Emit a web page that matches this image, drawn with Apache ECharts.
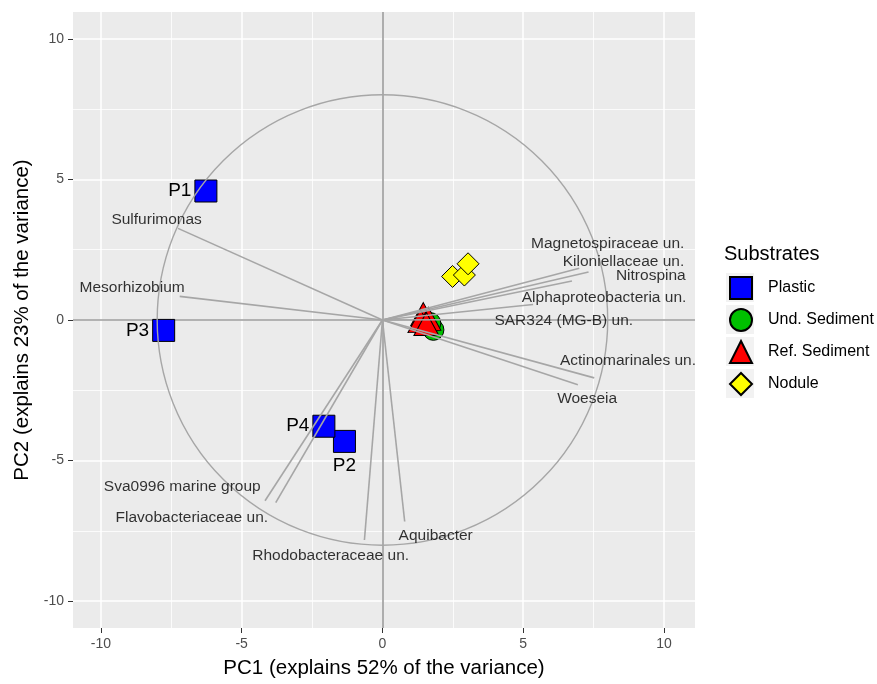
<!DOCTYPE html>
<html>
<head>
<meta charset="utf-8">
<script src="https://cdn.jsdelivr.net/npm/echarts@6/dist/echarts.min.js"></script>
<style>html,body{margin:0;padding:0;background:#fff;}#chart{width:877px;height:684px;}</style>
</head>
<body>
<div id="chart"></div>
<script>
// ---- data ----
const xTicks = [-10, -5, 0, 5, 10];
const yTicks = [-10, -5, 0, 5, 10];
const xMinor = [-7.5, -2.5, 2.5, 7.5];
const yMinor = [-7.5, -2.5, 2.5, 7.5];

const plasticNames = ['P1', 'P2', 'P3', 'P4'];
const plasticPC1 = [-6.27, -1.35, -7.77, -2.08];
const plasticPC2 = [4.59, -4.32, -0.37, -3.78];

const undSedPC1 = [1.81, 1.70];
const undSedPC2 = [-0.35, -0.11];

const refSedPC1 = [1.45, 1.63, 1.35, 1.56];
const refSedPC2 = [0.21, 0.04, -0.04, -0.14];

const nodulePC1 = [2.49, 2.91, 3.04];
const nodulePC2 = [1.55, 1.60, 2.00];

const loadingNames = ['Sulfurimonas', 'Mesorhizobium', 'Sva0996 marine group', 'Flavobacteriaceae un.',
  'Rhodobacteraceae un.', 'Aquibacter', 'Woeseia', 'Actinomarinales un.', 'SAR324 (MG-B) un.',
  'Alphaproteobacteria un.', 'Nitrospina', 'Kiloniellaceae un.', 'Magnetospiraceae un.'];
const loadingPC1 = [-7.26, -7.20, -4.17, -3.79, -0.64, 0.79, 6.94, 7.52, 4.40, 5.35, 6.73, 7.32, 6.99];
const loadingPC2 = [3.26, 0.84, -6.43, -6.50, -7.83, -7.17, -2.30, -2.06, 0.02, 0.55, 1.39, 1.71, 1.84];
// label anchor positions (data units)
const loadingLabelPC1 = [-8.02, -8.89, -7.11, -6.77, -1.84, 1.89, 7.27, 8.72, 6.44, 7.87, 9.53, 8.56, 8.00];
const loadingLabelPC2 = [3.56, 1.16, -5.94, -7.03, -8.40, -7.67, -2.80, -1.44, -0.02, 0.78, 1.57, 2.07, 2.70];

const circleRadius = 8;

const legendNames = ['Plastic', 'Und. Sediment', 'Ref. Sediment', 'Nodule'];
const legendIcons = ['rect', 'circle', 'triangle', 'diamond'];

// ---- chart ----
const FONT = "'Liberation Sans', Arial, Helvetica, sans-serif";
const chart = echarts.init(document.getElementById('chart'), null, { renderer: 'canvas' });

const gridLineData = []
  .concat(xMinor.map(v => ({ xAxis: v, lineStyle: { color: '#ffffff', width: 0.8, type: 'solid' } })))
  .concat(yMinor.map(v => ({ yAxis: v, lineStyle: { color: '#ffffff', width: 0.8, type: 'solid' } })))
  .concat(xTicks.map(v => ({ xAxis: v, lineStyle: { color: '#ffffff', width: 1.5, type: 'solid' } })))
  .concat(yTicks.map(v => ({ yAxis: v, lineStyle: { color: '#ffffff', width: 1.5, type: 'solid' } })));

const pLabelPos = { P1: 'left', P2: 'bottom', P3: 'left', P4: 'left' };

const legendKeyRects = legendNames.map((n, i) => ({
  type: 'rect', left: 726, top: 273 + i * 32, shape: { width: 28, height: 29 }, style: { fill: '#F2F2F2' }, z: -1
}));

const option = {
  animation: false,
  backgroundColor: '#ffffff',
  textStyle: { fontFamily: FONT },
  grid: { left: 73, right: 182, top: 12, bottom: 54, show: true, backgroundColor: '#EBEBEB', borderWidth: 0 },
  xAxis: {
    type: 'value', min: -10.99, max: 11.1,
    name: 'PC1 (explains 52% of the variance)', nameLocation: 'middle', nameGap: 30,
    nameTextStyle: { fontSize: 20.5, color: '#000', fontFamily: FONT },
    axisLine: { show: false, onZero: false },
    splitLine: { show: false },
    axisTick: { show: true, length: 5, lineStyle: { color: '#333', width: 1 }, customValues: xTicks },
    axisLabel: { fontSize: 14, color: '#4D4D4D', margin: 9, fontFamily: FONT, customValues: xTicks }
  },
  yAxis: {
    type: 'value', min: -10.96, max: 10.96,
    name: 'PC2 (explains 23% of the variance)', nameLocation: 'middle', nameGap: 40,
    nameTextStyle: { fontSize: 20.5, color: '#000', fontFamily: FONT },
    axisLine: { show: false, onZero: false },
    splitLine: { show: false },
    axisTick: { show: true, length: 5, lineStyle: { color: '#333', width: 1 }, customValues: yTicks },
    axisLabel: { fontSize: 14, color: '#4D4D4D', margin: 9, fontFamily: FONT, customValues: yTicks }
  },
  legend: {
    orient: 'vertical', left: 729, top: 276, padding: 0, itemWidth: 22, itemHeight: 22, itemGap: 8,
    selectedMode: false,
    textStyle: { fontSize: 16, color: '#000', fontFamily: FONT, lineHeight: 20, padding: [0, 0, 0, 11] },
    data: legendNames.map((n, i) => ({ name: n, icon: legendIcons[i] }))
  },
  graphic: [
    { type: 'text', left: 724, top: 244, style: { text: 'Substrates', fontSize: 20, fill: '#000', fontFamily: FONT } }
  ].concat(legendKeyRects),
  series: [
    {
      name: '_grid', type: 'line', data: [], z: 1, silent: true,
      markLine: { z: 1, silent: true, symbol: ['none', 'none'], label: { show: false }, animation: false, data: gridLineData }
    },
    {
      name: '_zero', type: 'line', data: [], z: 2, silent: true,
      markLine: {
        z: 2, silent: true, symbol: ['none', 'none'], label: { show: false }, animation: false,
        lineStyle: { color: '#9A9A9A', width: 1.6, type: 'solid' },
        data: [{ xAxis: 0 }, { yAxis: 0 }]
      }
    },
    {
      name: 'Plastic', type: 'scatter', symbol: 'rect', symbolSize: 22, z: 3,
      itemStyle: { color: '#0000FF', borderColor: '#000', borderWidth: 1, opacity: 1 },
      label: { show: true, formatter: '{b}', fontSize: 19, color: '#000', fontFamily: FONT, distance: 3 },
      data: plasticNames.map((n, i) => ({ name: n, value: [plasticPC1[i], plasticPC2[i]], label: { position: pLabelPos[n] } }))
    },
    {
      name: 'Und. Sediment', type: 'scatter', symbol: 'circle', symbolSize: 21, z: 3,
      itemStyle: { color: '#00C000', borderColor: '#000', borderWidth: 1, opacity: 1 },
      data: undSedPC1.map((v, i) => [v, undSedPC2[i]])
    },
    {
      name: 'Ref. Sediment', type: 'scatter', symbol: 'triangle', symbolSize: [25, 23], z: 3,
      itemStyle: { color: '#FF0000', borderColor: '#000', borderWidth: 1, opacity: 1 },
      data: refSedPC1.map((v, i) => [v, refSedPC2[i]])
    },
    {
      name: 'Nodule', type: 'scatter', symbol: 'diamond', symbolSize: 22, z: 3,
      itemStyle: { color: '#FFFF00', borderColor: '#000', borderWidth: 1, opacity: 1 },
      data: nodulePC1.map((v, i) => [v, nodulePC2[i]])
    },
    {
      name: '_circle', type: 'custom', coordinateSystem: 'cartesian2d', z: 4, silent: true,
      data: [[0, 0]],
      renderItem: function (params, api) {
        const c = api.coord([api.value(0), api.value(1)]);
        const r = api.size([circleRadius, 0])[0];
        return { type: 'circle', shape: { cx: c[0], cy: c[1], r: r }, style: { fill: 'none', stroke: '#A6A6A6', lineWidth: 1.4 } };
      }
    },
    {
      name: '_loadings', type: 'lines', coordinateSystem: 'cartesian2d', z: 5, silent: true,
      symbol: ['none', 'none'],
      lineStyle: { color: '#A6A6A6', width: 1.6, opacity: 1 },
      data: loadingNames.map((n, i) => ({ name: n, coords: [[0, 0], [loadingPC1[i], loadingPC2[i]]] }))
    },
    {
      name: '_loadingLabels', type: 'scatter', symbolSize: 1, z: 6, silent: true,
      itemStyle: { color: 'rgba(0,0,0,0)' },
      label: { show: true, position: 'inside', formatter: '{b}', fontSize: 15.5, color: '#000', fontFamily: FONT, align: 'center', verticalAlign: 'middle' },
      data: loadingNames.map((n, i) => ({ name: n, value: [loadingLabelPC1[i], loadingLabelPC2[i]] }))
    }
  ]
};
chart.setOption(option);
</script>
</body>
</html>
